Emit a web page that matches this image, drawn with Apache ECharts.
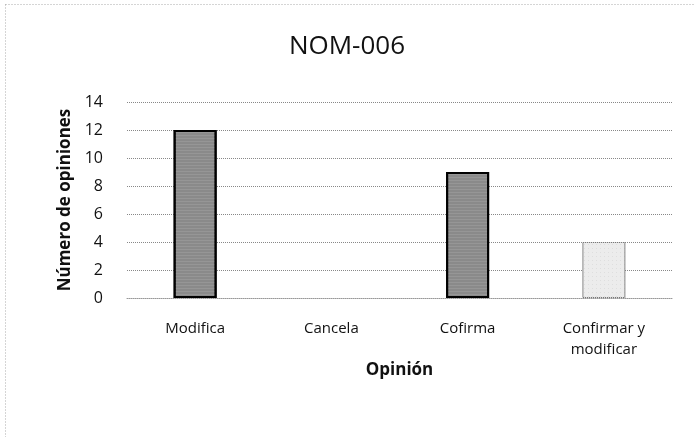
<!DOCTYPE html>
<html><head><meta charset="utf-8">
<script src="https://cdn.jsdelivr.net/npm/echarts@6/dist/echarts.min.js"></script>
<style>html,body{margin:0;padding:0;background:#fff}#c{width:694px;height:437px}</style>
</head><body><div id="c"></div>
<script>
const categories = ['Modifica', 'Cancela', 'Cofirma', 'Confirmar y\nmodificar'];
const values = [12, 0, 9, 4];
const yTicks = {min: 0, max: 14, interval: 2};
const titleText = 'NOM-006';
const yName = 'Número de opiniones';
const xName = 'Opinión';

const font = 'Open Sans';
const chart = echarts.init(document.getElementById('c'));
const darkDecal = {symbol: 'rect', symbolSize: 0.4, dashArrayX: [1,0], dashArrayY: [1,2], color: 'rgba(255,255,255,0.5)'};
const barStyles = [
  {color: '#8a8a8a', borderColor: '#000', borderWidth: 2, decal: darkDecal},
  {color: '#8a8a8a', borderColor: '#000', borderWidth: 0},
  {color: '#8a8a8a', borderColor: '#000', borderWidth: 2, decal: darkDecal},
  {color: '#ececec', borderColor: '#777', borderWidth: 1, borderType: 'dotted', decal: {symbol: 'circle', symbolSize: 0.5, dashArrayX: [1,3], dashArrayY: [1,3], color: 'rgba(0,0,0,0.35)'}}
];
chart.setOption({
  animation: false,
  aria: {enabled: false},
  title: {text: titleText, left: 'center', top: 29, textStyle: {fontFamily: font, fontSize: 26, fontWeight: 'normal', color: '#111'}},
  grid: {left: 127, right: 22, top: 102, bottom: 139, containLabel: false},
  xAxis: {
    type: 'category', data: categories,
    name: xName, nameLocation: 'middle', nameGap: 64,
    nameTextStyle: {fontFamily: font, fontSize: 17, fontWeight: 'bold', color: '#111'},
    axisLine: {lineStyle: {color: '#999', type: 'dotted'}},
    axisTick: {show: false},
    axisLabel: {fontFamily: font, fontSize: 15, color: '#111', margin: 20, lineHeight: 21, interval: 0}
  },
  yAxis: {
    type: 'value', min: yTicks.min, max: yTicks.max, interval: yTicks.interval,
    name: yName, nameLocation: 'middle', nameGap: 52,
    nameTextStyle: {fontFamily: font, fontSize: 17, fontWeight: 'bold', color: '#111'},
    axisLine: {show: false}, axisTick: {show: false},
    axisLabel: {fontFamily: font, fontSize: 16, color: '#111', margin: 24},
    splitLine: {lineStyle: {color: '#888', type: 'dotted', width: 1}}
  },
  series: [{
    type: 'bar', barWidth: 43,
    data: values.map((v, i) => ({value: v, itemStyle: barStyles[i]}))
  }],
  graphic: [{type: 'rect', left: 3, top: 2, shape: {width: 690, height: 434}, style: {fill: 'none', stroke: '#aaa', lineWidth: 1, lineDash: [1, 2]}, silent: true}]
});
</script></body></html>
